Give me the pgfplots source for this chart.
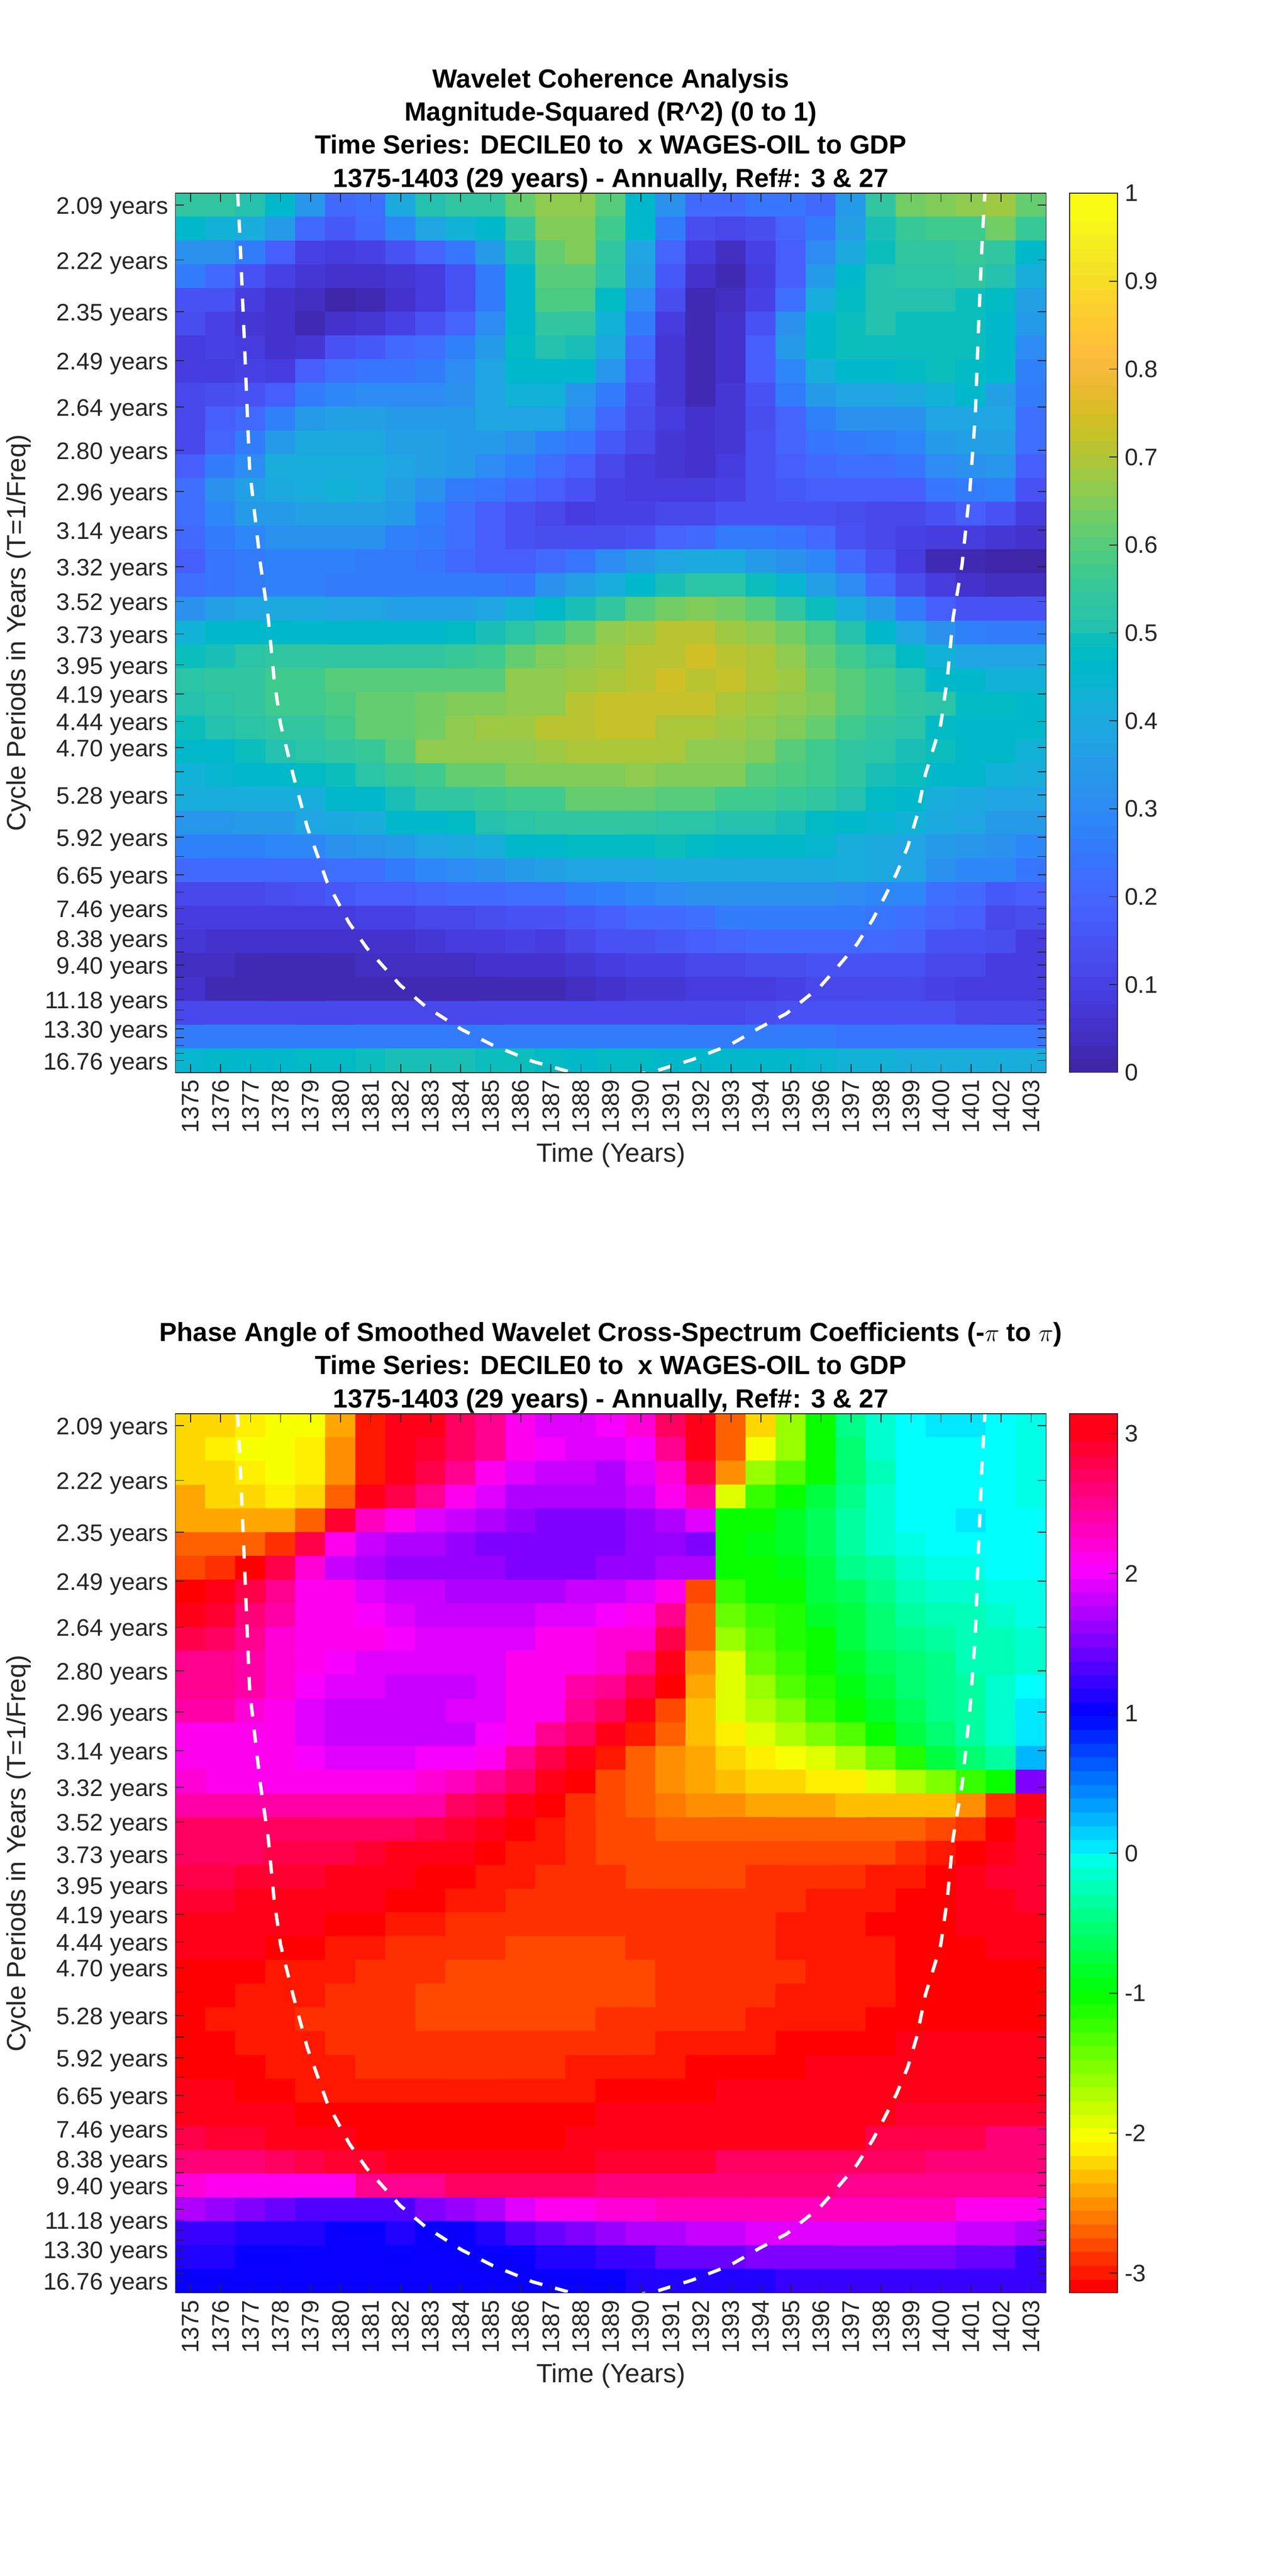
\documentclass[border=0pt]{standalone}
\usepackage{fontspec}
\setmainfont{Liberation Sans}
\usepackage{pgfplots}
\usepackage{pgfplotstable}
\pgfplotsset{compat=1.18}
\definecolor{axisgray}{rgb}{0.15,0.15,0.15}
\pgfplotstableread[row sep=crcr,header=false]{
0\\0\\1\\1\\2\\2\\3\\3\\4\\4\\5\\5\\6\\6\\7\\7\\8\\8\\9\\9\\10\\10\\11\\11\\12\\12\\13\\13\\14\\14\\15\\15\\
16\\16\\17\\17\\18\\18\\19\\19\\20\\20\\21\\21\\22\\22\\23\\23\\24\\24\\25\\25\\26\\26\\27\\27\\28\\28\\29\\29\\30\\30\\31\\31\\
32\\32\\33\\33\\34\\34\\35\\35\\36\\36\\37\\37\\38\\38\\39\\39\\40\\40\\41\\41\\42\\42\\43\\43\\44\\44\\45\\45\\46\\46\\47\\47\\
48\\48\\49\\49\\50\\50\\51\\51\\52\\52\\53\\53\\54\\54\\55\\55\\56\\56\\57\\57\\58\\58\\59\\59\\60\\60\\61\\61\\62\\62\\63\\63\\
}\cbarbins
\pgfplotsset{
  colormap={parula64}{
    rgb=(.2422,.1504,.6603) rgb=(.2504,.1650,.7076) rgb=(.2578,.1818,.7511) rgb=(.2647,.1978,.7952)
    rgb=(.2706,.2147,.8364) rgb=(.2751,.2342,.8710) rgb=(.2783,.2559,.8991) rgb=(.2803,.2782,.9221)
    rgb=(.2813,.3006,.9414) rgb=(.2810,.3228,.9579) rgb=(.2795,.3447,.9717) rgb=(.2760,.3667,.9829)
    rgb=(.2699,.3892,.9906) rgb=(.2602,.4123,.9952) rgb=(.2440,.4358,.9988) rgb=(.2206,.4603,.9973)
    rgb=(.1963,.4847,.9892) rgb=(.1834,.5074,.9798) rgb=(.1786,.5289,.9682) rgb=(.1764,.5499,.9520)
    rgb=(.1687,.5703,.9359) rgb=(.1540,.5902,.9218) rgb=(.1460,.6091,.9079) rgb=(.1380,.6276,.8973)
    rgb=(.1248,.6459,.8883) rgb=(.1113,.6635,.8763) rgb=(.0952,.6798,.8598) rgb=(.0689,.6948,.8394)
    rgb=(.0297,.7082,.8163) rgb=(.0036,.7203,.7917) rgb=(.0067,.7312,.7660) rgb=(.0433,.7411,.7394)
    rgb=(.0964,.7500,.7120) rgb=(.1408,.7584,.6842) rgb=(.1717,.7670,.6554) rgb=(.1938,.7758,.6251)
    rgb=(.2161,.7843,.5923) rgb=(.2470,.7918,.5567) rgb=(.2906,.7973,.5188) rgb=(.3406,.8008,.4789)
    rgb=(.3909,.8029,.4354) rgb=(.4456,.8024,.3909) rgb=(.5044,.7993,.3480) rgb=(.5616,.7942,.3045)
    rgb=(.6174,.7876,.2612) rgb=(.6720,.7793,.2227) rgb=(.7242,.7698,.1910) rgb=(.7738,.7598,.1646)
    rgb=(.8203,.7498,.1535) rgb=(.8634,.7406,.1596) rgb=(.9035,.7330,.1774) rgb=(.9393,.7288,.2100)
    rgb=(.9728,.7298,.2394) rgb=(.9956,.7434,.2371) rgb=(.9970,.7659,.2199) rgb=(.9952,.7861,.1964)
    rgb=(.9892,.8137,.1886) rgb=(.9786,.8386,.1724) rgb=(.9676,.8639,.1497) rgb=(.9610,.8890,.1537)
    rgb=(.9597,.9135,.1423) rgb=(.9628,.9373,.1265) rgb=(.9691,.9606,.1064) rgb=(.9769,.9839,.0805)
    rgb=(.9769,.9839,.0805)
  },
  colormap={hsv64}{
    rgb=(1,0,0) rgb=(1,.09375,0) rgb=(1,.1875,0) rgb=(1,.28125,0) rgb=(1,.375,0) rgb=(1,.46875,0)
    rgb=(1,.5625,0) rgb=(1,.65625,0) rgb=(1,.75,0) rgb=(1,.84375,0) rgb=(1,.9375,0)
    rgb=(.96875,1,0) rgb=(.875,1,0) rgb=(.78125,1,0) rgb=(.6875,1,0) rgb=(.59375,1,0) rgb=(.5,1,0)
    rgb=(.40625,1,0) rgb=(.3125,1,0) rgb=(.21875,1,0) rgb=(.125,1,0) rgb=(.03125,1,0)
    rgb=(0,1,.0625) rgb=(0,1,.15625) rgb=(0,1,.25) rgb=(0,1,.34375) rgb=(0,1,.4375) rgb=(0,1,.53125)
    rgb=(0,1,.625) rgb=(0,1,.71875) rgb=(0,1,.8125) rgb=(0,1,.90625) rgb=(0,1,1)
    rgb=(0,.90625,1) rgb=(0,.8125,1) rgb=(0,.71875,1) rgb=(0,.625,1) rgb=(0,.53125,1) rgb=(0,.4375,1)
    rgb=(0,.34375,1) rgb=(0,.25,1) rgb=(0,.15625,1) rgb=(0,.0625,1)
    rgb=(.03125,0,1) rgb=(.125,0,1) rgb=(.21875,0,1) rgb=(.3125,0,1) rgb=(.40625,0,1) rgb=(.5,0,1)
    rgb=(.59375,0,1) rgb=(.6875,0,1) rgb=(.78125,0,1) rgb=(.875,0,1) rgb=(.96875,0,1)
    rgb=(1,0,.9375) rgb=(1,0,.84375) rgb=(1,0,.75) rgb=(1,0,.65625) rgb=(1,0,.5625) rgb=(1,0,.46875)
    rgb=(1,0,.375) rgb=(1,0,.28125) rgb=(1,0,.1875) rgb=(1,0,.09375) rgb=(1,0,.09375)
  },
  heat/.style={
    scale only axis, width=422.6pt, height=426.8pt, anchor=south west,
    xmin=1374.5, xmax=1403.5, ymin=0.5, ymax=37.5, y dir=reverse,
    axis on top, tick align=inside, major tick length=4.2pt,
    colormap access=piecewise constant,
    axis line style={color=axisgray, line width=0.4pt},
    tick style={color=axisgray, line width=0.4pt},
    xtick={1375,1376,...,1403},
    x tick label style={rotate=90, anchor=east, /pgf/number format/1000 sep={}, /pgf/number format/assume math mode=true},
    xticklabel pos=bottom,
    ytick={1.00,3.31,5.49,7.55,9.49,11.32,13.05,14.68,16.22,17.68,19.05,20.35,21.57,22.73,23.82,24.84,25.82,26.73,27.60,28.41,29.18,29.91,30.60,31.25,31.86,32.43,32.98,33.49,33.98,34.44,34.87,35.28,35.66,36.03,36.37,36.69,37.00},
    yticklabels={2.09 years,2.22 years,2.35 years,2.49 years,2.64 years,2.80 years,2.96 years,3.14 years,3.32 years,3.52 years,3.73 years,3.95 years,4.19 years,4.44 years,4.70 years,{},5.28 years,{},5.92 years,{},6.65 years,{},7.46 years,{},8.38 years,{},9.40 years,{},{},11.18 years,{},{},13.30 years,{},{},{},16.76 years},
    tick label style={font=\fontsize{11.6}{13}\selectfont, text=axisgray},
    y tick label style={yshift=-1.5pt},
    xlabel={Time (Years)}, ylabel={Cycle Periods in Years (T=1/Freq)},
    label style={font=\fontsize{12.8}{15}\selectfont, text=axisgray},
    xlabel style={at={(axis description cs:0.5,-0.0942)}, anchor=center},
    ylabel style={at={(axis description cs:-0.1803,0.5)}, anchor=center},
    title style={at={(axis description cs:0.5,1)}, anchor=south, align=center, inner sep=0pt, yshift=-5.9pt,
      font=\bfseries\fontsize{12.75}{16.1}\selectfont, text=black},
  },
  cbar/.style={
    scale only axis, width=23.2pt, height=426.8pt, anchor=south west,
    xmin=0, xmax=1, ymin=-0.5, ymax=63.5, xtick=\empty,
    axis on top, colormap access=piecewise constant,
    point meta min=-0.5, point meta max=63.5,
    ytick pos=right, yticklabel pos=right, tick align=inside, major tick length=4pt,
    axis line style={color=axisgray, line width=0.4pt},
    tick style={color=axisgray, line width=0.4pt},
    tick label style={font=\fontsize{11.6}{13}\selectfont, text=axisgray},
  },
  coi/.style={white, line width=1.6pt, dash pattern=on 6.4pt off 6.4pt, sharp plot, mesh/check=false},
  cells/.style={matrix plot*, mesh/cols=29, point meta=explicit},
}
\begin{document}
\begin{tikzpicture}
\path[use as bounding box] (0,0) rectangle (625pt,1250.4pt);
\begin{axis}[heat, at={(85.2pt,729.8pt)},
  colormap name=parula64, point meta min=0, point meta max=1,
  title={Wavelet Coherence Analysis\\Magnitude-Squared (R\textasciicircum 2) (0 to 1)\\Time Series: DECILE0 to\ \ x WAGES-OIL to GDP\\1375-1403 (29 years) - Annually, Ref\#: 3 \& 27}]
\addplot[cells] table[row sep=crcr, header=false, meta index=0, x expr={1375+\coordindex-29*floor((\coordindex+0.5)/29)}, y expr={1+floor((\coordindex+0.5)/29)}] {
0.54\\0.54\\0.52\\0.46\\0.33\\0.20\\0.23\\0.39\\0.52\\0.54\\0.54\\0.62\\0.67\\0.67\\0.60\\0.46\\0.32\\0.21\\0.21\\0.24\\0.24\\0.20\\0.34\\0.54\\0.64\\0.66\\0.67\\0.69\\0.63\\
0.45\\0.43\\0.40\\0.34\\0.21\\0.16\\0.20\\0.29\\0.38\\0.43\\0.46\\0.55\\0.66\\0.66\\0.58\\0.45\\0.26\\0.13\\0.12\\0.13\\0.19\\0.26\\0.36\\0.50\\0.56\\0.58\\0.57\\0.64\\0.56\\
0.32\\0.31\\0.25\\0.17\\0.10\\0.08\\0.10\\0.15\\0.19\\0.24\\0.34\\0.50\\0.63\\0.65\\0.55\\0.38\\0.19\\0.09\\0.04\\0.10\\0.17\\0.30\\0.39\\0.48\\0.54\\0.54\\0.56\\0.55\\0.46\\
0.26\\0.20\\0.15\\0.10\\0.07\\0.05\\0.05\\0.07\\0.09\\0.15\\0.26\\0.46\\0.60\\0.61\\0.53\\0.36\\0.16\\0.06\\0.02\\0.08\\0.17\\0.34\\0.45\\0.52\\0.53\\0.53\\0.54\\0.51\\0.41\\
0.15\\0.15\\0.09\\0.05\\0.04\\0.01\\0.03\\0.06\\0.09\\0.15\\0.26\\0.46\\0.59\\0.59\\0.47\\0.30\\0.13\\0.03\\0.04\\0.10\\0.23\\0.41\\0.47\\0.51\\0.51\\0.51\\0.49\\0.47\\0.36\\
0.13\\0.10\\0.07\\0.05\\0.03\\0.05\\0.07\\0.10\\0.14\\0.19\\0.30\\0.45\\0.54\\0.54\\0.43\\0.25\\0.09\\0.03\\0.05\\0.15\\0.32\\0.45\\0.48\\0.51\\0.49\\0.49\\0.49\\0.46\\0.34\\
0.09\\0.10\\0.08\\0.06\\0.07\\0.14\\0.16\\0.20\\0.22\\0.27\\0.34\\0.47\\0.52\\0.50\\0.39\\0.20\\0.07\\0.03\\0.05\\0.17\\0.34\\0.45\\0.49\\0.49\\0.49\\0.49\\0.49\\0.46\\0.30\\
0.09\\0.09\\0.10\\0.09\\0.17\\0.22\\0.24\\0.24\\0.26\\0.30\\0.38\\0.46\\0.46\\0.46\\0.33\\0.17\\0.07\\0.03\\0.06\\0.17\\0.29\\0.41\\0.45\\0.46\\0.47\\0.48\\0.47\\0.46\\0.27\\
0.11\\0.13\\0.14\\0.17\\0.25\\0.29\\0.30\\0.30\\0.30\\0.31\\0.38\\0.42\\0.42\\0.33\\0.25\\0.14\\0.07\\0.03\\0.07\\0.15\\0.25\\0.35\\0.38\\0.38\\0.39\\0.42\\0.45\\0.36\\0.25\\
0.11\\0.17\\0.21\\0.27\\0.35\\0.36\\0.36\\0.34\\0.34\\0.35\\0.37\\0.37\\0.37\\0.30\\0.20\\0.13\\0.08\\0.05\\0.07\\0.13\\0.19\\0.27\\0.31\\0.31\\0.32\\0.37\\0.38\\0.37\\0.22\\
0.12\\0.19\\0.26\\0.34\\0.39\\0.39\\0.39\\0.36\\0.36\\0.35\\0.34\\0.32\\0.27\\0.24\\0.16\\0.11\\0.07\\0.05\\0.07\\0.14\\0.19\\0.24\\0.26\\0.27\\0.28\\0.34\\0.36\\0.36\\0.22\\
0.17\\0.26\\0.30\\0.40\\0.41\\0.41\\0.40\\0.37\\0.36\\0.34\\0.30\\0.27\\0.22\\0.17\\0.12\\0.09\\0.07\\0.06\\0.08\\0.14\\0.17\\0.20\\0.22\\0.22\\0.24\\0.30\\0.32\\0.33\\0.18\\
0.23\\0.31\\0.36\\0.39\\0.41\\0.42\\0.41\\0.36\\0.31\\0.26\\0.24\\0.21\\0.17\\0.14\\0.10\\0.09\\0.08\\0.08\\0.10\\0.14\\0.16\\0.17\\0.17\\0.17\\0.18\\0.24\\0.26\\0.27\\0.14\\
0.22\\0.29\\0.34\\0.35\\0.36\\0.36\\0.36\\0.34\\0.27\\0.22\\0.17\\0.14\\0.11\\0.09\\0.10\\0.10\\0.11\\0.12\\0.14\\0.14\\0.14\\0.14\\0.13\\0.11\\0.11\\0.14\\0.17\\0.14\\0.08\\
0.20\\0.25\\0.29\\0.31\\0.31\\0.31\\0.31\\0.27\\0.26\\0.22\\0.17\\0.14\\0.13\\0.13\\0.13\\0.14\\0.19\\0.21\\0.25\\0.25\\0.24\\0.21\\0.15\\0.12\\0.10\\0.09\\0.08\\0.07\\0.05\\
0.17\\0.24\\0.25\\0.27\\0.27\\0.27\\0.26\\0.25\\0.24\\0.21\\0.18\\0.17\\0.20\\0.24\\0.30\\0.35\\0.38\\0.39\\0.39\\0.35\\0.32\\0.29\\0.21\\0.14\\0.09\\0.03\\0.02\\0.01\\0.01\\
0.22\\0.24\\0.26\\0.27\\0.27\\0.26\\0.26\\0.25\\0.25\\0.25\\0.25\\0.24\\0.31\\0.36\\0.41\\0.46\\0.50\\0.53\\0.53\\0.49\\0.44\\0.36\\0.30\\0.21\\0.13\\0.09\\0.05\\0.04\\0.04\\
0.32\\0.36\\0.37\\0.39\\0.39\\0.37\\0.37\\0.36\\0.36\\0.36\\0.38\\0.42\\0.46\\0.50\\0.55\\0.61\\0.64\\0.66\\0.64\\0.60\\0.55\\0.48\\0.41\\0.34\\0.25\\0.18\\0.14\\0.14\\0.14\\
0.43\\0.46\\0.46\\0.46\\0.46\\0.46\\0.46\\0.46\\0.46\\0.47\\0.50\\0.53\\0.58\\0.62\\0.67\\0.69\\0.715\\0.715\\0.69\\0.675\\0.64\\0.59\\0.52\\0.45\\0.37\\0.31\\0.27\\0.26\\0.26\\
0.48\\0.50\\0.53\\0.54\\0.54\\0.54\\0.54\\0.54\\0.55\\0.56\\0.58\\0.62\\0.65\\0.675\\0.69\\0.72\\0.72\\0.74\\0.72\\0.705\\0.67\\0.63\\0.58\\0.53\\0.47\\0.42\\0.37\\0.37\\0.37\\
0.53\\0.55\\0.55\\0.58\\0.58\\0.60\\0.60\\0.61\\0.61\\0.60\\0.60\\0.67\\0.67\\0.69\\0.705\\0.72\\0.74\\0.72\\0.725\\0.705\\0.69\\0.64\\0.60\\0.58\\0.53\\0.46\\0.45\\0.42\\0.43\\
0.52\\0.53\\0.55\\0.57\\0.58\\0.59\\0.62\\0.62\\0.64\\0.65\\0.66\\0.67\\0.675\\0.715\\0.725\\0.725\\0.725\\0.725\\0.705\\0.69\\0.67\\0.65\\0.61\\0.58\\0.55\\0.53\\0.47\\0.47\\0.46\\
0.49\\0.51\\0.53\\0.54\\0.55\\0.57\\0.62\\0.63\\0.64\\0.67\\0.69\\0.69\\0.715\\0.72\\0.725\\0.725\\0.705\\0.705\\0.69\\0.675\\0.66\\0.62\\0.58\\0.55\\0.53\\0.47\\0.46\\0.46\\0.45\\
0.46\\0.46\\0.49\\0.51\\0.53\\0.55\\0.56\\0.61\\0.67\\0.67\\0.675\\0.675\\0.69\\0.70\\0.70\\0.70\\0.70\\0.675\\0.67\\0.66\\0.61\\0.58\\0.55\\0.53\\0.50\\0.49\\0.46\\0.46\\0.43\\
0.43\\0.44\\0.46\\0.46\\0.47\\0.49\\0.53\\0.56\\0.58\\0.62\\0.63\\0.66\\0.66\\0.66\\0.66\\0.67\\0.65\\0.65\\0.65\\0.61\\0.59\\0.57\\0.54\\0.50\\0.48\\0.46\\0.46\\0.42\\0.40\\
0.40\\0.40\\0.40\\0.40\\0.41\\0.45\\0.46\\0.50\\0.54\\0.55\\0.56\\0.58\\0.58\\0.62\\0.62\\0.62\\0.60\\0.60\\0.58\\0.57\\0.56\\0.54\\0.52\\0.47\\0.46\\0.41\\0.39\\0.38\\0.38\\
0.33\\0.33\\0.34\\0.35\\0.37\\0.39\\0.41\\0.45\\0.46\\0.47\\0.52\\0.53\\0.54\\0.55\\0.55\\0.55\\0.53\\0.53\\0.52\\0.52\\0.50\\0.47\\0.46\\0.44\\0.42\\0.39\\0.37\\0.35\\0.34\\
0.27\\0.27\\0.27\\0.28\\0.29\\0.31\\0.33\\0.34\\0.37\\0.39\\0.41\\0.46\\0.46\\0.47\\0.47\\0.47\\0.48\\0.47\\0.46\\0.46\\0.46\\0.44\\0.41\\0.39\\0.38\\0.34\\0.33\\0.31\\0.29\\
0.20\\0.20\\0.20\\0.21\\0.21\\0.22\\0.23\\0.26\\0.28\\0.30\\0.31\\0.34\\0.36\\0.37\\0.38\\0.38\\0.39\\0.39\\0.39\\0.39\\0.39\\0.39\\0.40\\0.39\\0.38\\0.32\\0.29\\0.28\\0.24\\
0.12\\0.12\\0.12\\0.13\\0.15\\0.16\\0.17\\0.18\\0.19\\0.20\\0.21\\0.22\\0.23\\0.25\\0.27\\0.29\\0.30\\0.31\\0.31\\0.32\\0.32\\0.31\\0.30\\0.29\\0.28\\0.22\\0.20\\0.16\\0.17\\
0.08\\0.08\\0.08\\0.08\\0.09\\0.09\\0.10\\0.10\\0.11\\0.12\\0.13\\0.14\\0.15\\0.16\\0.18\\0.20\\0.21\\0.23\\0.25\\0.25\\0.25\\0.25\\0.25\\0.24\\0.23\\0.19\\0.17\\0.12\\0.13\\
0.07\\0.05\\0.05\\0.05\\0.05\\0.05\\0.05\\0.05\\0.07\\0.08\\0.08\\0.10\\0.09\\0.11\\0.14\\0.15\\0.16\\0.18\\0.19\\0.20\\0.20\\0.20\\0.21\\0.20\\0.19\\0.15\\0.14\\0.13\\0.09\\
0.04\\0.04\\0.03\\0.03\\0.03\\0.02\\0.04\\0.04\\0.04\\0.04\\0.05\\0.06\\0.06\\0.07\\0.08\\0.10\\0.10\\0.11\\0.11\\0.13\\0.13\\0.14\\0.14\\0.14\\0.14\\0.11\\0.11\\0.08\\0.08\\
0.05\\0.03\\0.03\\0.03\\0.03\\0.03\\0.02\\0.02\\0.02\\0.02\\0.03\\0.03\\0.03\\0.04\\0.06\\0.07\\0.07\\0.08\\0.09\\0.09\\0.10\\0.11\\0.11\\0.11\\0.11\\0.10\\0.09\\0.09\\0.08\\
0.11\\0.11\\0.11\\0.11\\0.11\\0.11\\0.11\\0.11\\0.11\\0.11\\0.11\\0.11\\0.11\\0.11\\0.11\\0.11\\0.11\\0.12\\0.12\\0.13\\0.14\\0.14\\0.14\\0.14\\0.14\\0.14\\0.12\\0.12\\0.11\\
0.26\\0.26\\0.26\\0.26\\0.26\\0.26\\0.26\\0.26\\0.26\\0.26\\0.26\\0.26\\0.26\\0.26\\0.26\\0.26\\0.25\\0.25\\0.25\\0.25\\0.25\\0.25\\0.24\\0.24\\0.24\\0.24\\0.24\\0.24\\0.24\\
0.44\\0.45\\0.45\\0.46\\0.47\\0.47\\0.49\\0.50\\0.50\\0.50\\0.49\\0.48\\0.47\\0.46\\0.47\\0.47\\0.46\\0.46\\0.46\\0.45\\0.45\\0.44\\0.43\\0.42\\0.41\\0.41\\0.41\\0.41\\0.41\\
};
\addplot[coi] coordinates {(1376.57,0.5) (1376.64,2.2) (1376.79,6.62) (1376.97,12.15) (1377.33,16.12) (1377.59,18.37) (1377.78,20.91) (1378.0,22.85) (1378.44,25.08) (1378.89,27.18) (1379.55,29.49) (1380.28,31.2) (1380.87,32.26) (1381.98,33.82) (1382.83,34.72) (1384.03,35.69) (1385.07,36.35) (1386.39,37.03) (1387.57,37.45) (1388.9,37.8) (1390.46,37.45) (1391.71,36.96) (1392.95,36.35) (1393.98,35.6) (1394.85,35.02) (1395.97,33.89) (1396.54,33.08) (1397.2,32.1) (1397.72,31.07) (1398.16,30.02) (1398.52,29.12) (1398.89,28.0) (1399.19,26.73) (1399.48,24.95) (1399.99,22.85) (1400.21,20.91) (1400.4,18.37) (1400.7,16.12) (1400.96,12.98) (1401.14,9.86) (1401.25,6.07) (1401.36,2.74) (1401.46,0.5)};
\end{axis}
\begin{axis}[cbar, at={(519.2pt,729.8pt)}, colormap name=parula64,
  ytick={-0.5,5.9,12.3,18.7,25.1,31.5,37.9,44.3,50.7,57.1,63.5},
  yticklabels={0,0.1,0.2,0.3,0.4,0.5,0.6,0.7,0.8,0.9,1}]
\addplot[matrix plot*, mesh/cols=2, point meta=y] table[x expr={\coordindex-2*floor((\coordindex+0.5)/2)}, y index=0] {\cbarbins};
\end{axis}
\begin{axis}[heat, at={(85.2pt,137.4pt)},
  colormap name=hsv64, point meta min=-3.14159, point meta max=3.14159,
  title={Phase Angle of Smoothed Wavelet Cross-Spectrum Coefficients (-$\pi$ to $\pi$)\\Time Series: DECILE0 to\ \ x WAGES-OIL to GDP\\1375-1403 (29 years) - Annually, Ref\#: 3 \& 27}]
\addplot[cells] table[row sep=crcr, header=false, meta index=0, x expr={1375+\coordindex-29*floor((\coordindex+0.5)/29)}, y expr={1+floor((\coordindex+0.5)/29)}] {
-2.27\\-2.27\\-2.16\\-2.05\\-2.05\\-2.46\\-3.0\\3.0\\3.0\\2.75\\2.55\\2.15\\1.97\\1.97\\2.05\\2.2\\2.75\\3.0\\-2.66\\-2.2\\-1.68\\-1.1\\-0.5\\-0.15\\0\\0.12\\0.12\\0.01\\-0.12\\
-2.27\\-2.16\\-2.05\\-2.05\\-2.17\\-2.56\\-3.0\\3.1\\2.92\\2.68\\2.47\\2.1\\2.0\\1.97\\1.9\\2.05\\2.47\\3.0\\-2.66\\-2.05\\-1.6\\-1.1\\-0.55\\-0.23\\0\\0\\0\\0\\-0.12\\
-2.27\\-2.27\\-2.16\\-2.03\\-2.16\\-2.56\\-3.0\\3.0\\2.8\\2.55\\2.15\\1.97\\1.83\\1.83\\1.78\\1.9\\2.2\\2.8\\-2.56\\-1.68\\-1.33\\-1.08\\-0.55\\-0.28\\0\\0\\0\\0\\-0.1\\
-2.37\\-2.27\\-2.27\\-2.16\\-2.27\\-2.75\\3.1\\2.8\\2.47\\2.1\\1.97\\1.78\\1.78\\1.78\\1.74\\1.87\\2.1\\2.4\\-1.95\\-1.26\\-1.08\\-0.8\\-0.45\\-0.2\\0\\0\\0\\0\\-0.1\\
-2.44\\-2.44\\-2.37\\-2.44\\-2.66\\2.9\\2.3\\2.1\\1.93\\1.8\\1.7\\1.6\\1.55\\1.55\\1.5\\1.6\\1.78\\1.93\\-1.1\\-1.1\\-0.85\\-0.68\\-0.38\\-0.15\\0\\0\\0.12\\0\\0\\
-2.66\\-2.66\\-2.66\\-2.9\\2.85\\2.1\\1.83\\1.7\\1.7\\1.6\\1.58\\1.55\\1.55\\1.55\\1.5\\1.6\\1.6\\1.57\\-1.08\\-0.95\\-0.85\\-0.68\\-0.4\\-0.2\\-0.08\\0\\0\\0\\0\\
-2.8\\-2.9\\-3.1\\2.82\\2.2\\1.87\\1.78\\1.68\\1.68\\1.68\\1.6\\1.57\\1.57\\1.57\\1.66\\1.68\\1.78\\1.74\\-1.08\\-1.08\\-0.95\\-0.75\\-0.45\\-0.35\\-0.2\\-0.1\\-0.05\\0\\0\\
-3.1\\3.0\\2.8\\2.55\\2.09\\2.09\\1.97\\1.87\\1.87\\1.74\\1.74\\1.74\\1.74\\1.83\\1.87\\1.97\\2.09\\-2.8\\-1.26\\-1.08\\-1.08\\-0.8\\-0.68\\-0.45\\-0.32\\-0.22\\-0.2\\-0.12\\-0.12\\
3.0\\2.9\\2.62\\2.45\\2.1\\2.09\\2.0\\1.97\\1.8\\1.8\\1.8\\1.8\\1.9\\1.9\\2.05\\2.09\\2.47\\-2.68\\-1.47\\-1.26\\-1.12\\-0.9\\-0.75\\-0.55\\-0.38\\-0.3\\-0.28\\-0.23\\-0.12\\
2.85\\2.68\\2.55\\2.25\\2.09\\2.09\\2.09\\2.0\\1.97\\1.95\\1.95\\1.95\\2.09\\2.09\\2.18\\2.25\\2.82\\-2.68\\-1.68\\-1.33\\-1.15\\-1.08\\-0.8\\-0.6\\-0.47\\-0.35\\-0.3\\-0.27\\-0.15\\
2.55\\2.47\\2.38\\2.2\\2.09\\2.04\\1.97\\1.97\\1.97\\1.97\\1.98\\2.09\\2.09\\2.12\\2.25\\2.47\\3.0\\-2.56\\-1.9\\-1.47\\-1.26\\-1.08\\-0.85\\-0.68\\-0.55\\-0.45\\-0.33\\-0.28\\-0.15\\
2.47\\2.47\\2.4\\2.2\\2.06\\1.97\\1.97\\1.87\\1.87\\1.87\\1.97\\2.09\\2.12\\2.4\\2.47\\2.82\\-3.1\\-2.46\\-1.97\\-1.6\\-1.33\\-1.15\\-0.95\\-0.75\\-0.6\\-0.45\\-0.35\\-0.15\\0\\
2.38\\2.38\\2.25\\2.09\\1.97\\1.87\\1.87\\1.87\\1.87\\1.9\\1.97\\2.12\\2.15\\2.55\\2.68\\3.0\\-2.8\\-2.35\\-1.97\\-1.77\\-1.5\\-1.26\\-1.02\\-0.85\\-0.68\\-0.5\\-0.38\\-0.2\\0.08\\
2.1\\2.1\\2.09\\2.09\\1.97\\1.83\\1.83\\1.83\\1.83\\1.85\\2.0\\2.12\\2.55\\2.75\\3.0\\-3.0\\-2.68\\-2.35\\-2.12\\-1.9\\-1.77\\-1.55\\-1.33\\-1.08\\-0.75\\-0.55\\-0.38\\-0.2\\0.12\\
2.09\\2.09\\2.09\\2.09\\2.0\\1.98\\1.9\\1.9\\2.0\\2.04\\2.12\\2.47\\2.82\\3.0\\-3.0\\-2.75\\-2.53\\-2.4\\-2.27\\-2.09\\-2.0\\-1.9\\-1.7\\-1.47\\-1.15\\-0.8\\-0.6\\-0.35\\0.25\\
2.2\\2.09\\2.09\\2.09\\2.09\\2.09\\2.09\\2.09\\2.2\\2.33\\2.47\\2.75\\3.0\\-3.1\\-2.8\\-2.75\\-2.53\\-2.44\\-2.35\\-2.27\\-2.27\\-2.16\\-2.09\\-1.97\\-1.75\\-1.55\\-1.3\\-1.05\\1.5\\
2.38\\2.38\\2.38\\2.38\\2.38\\2.38\\2.38\\2.38\\2.42\\2.75\\2.82\\3.0\\-3.1\\-2.9\\-2.8\\-2.75\\-2.62\\-2.56\\-2.56\\-2.44\\-2.44\\-2.44\\-2.35\\-2.35\\-2.35\\-2.35\\-2.56\\-2.9\\2.95\\
2.68\\2.68\\2.68\\2.68\\2.68\\2.68\\2.72\\2.72\\2.78\\2.88\\3.0\\-3.1\\-3.0\\-2.9\\-2.8\\-2.8\\-2.72\\-2.72\\-2.66\\-2.66\\-2.66\\-2.66\\-2.66\\-2.66\\-2.74\\-2.8\\-2.9\\-3.1\\2.92\\
2.72\\2.72\\2.72\\2.82\\2.82\\2.82\\2.88\\2.95\\2.95\\3.1\\-3.1\\-3.0\\-3.0\\-2.9\\-2.8\\-2.8\\-2.8\\-2.8\\-2.8\\-2.8\\-2.8\\-2.8\\-2.8\\-2.8\\-2.9\\-3.0\\-3.1\\3.0\\2.92\\
2.78\\2.78\\2.88\\2.88\\2.88\\3.0\\3.0\\3.1\\-3.1\\-3.1\\-3.0\\-3.0\\-2.9\\-2.9\\-2.9\\-2.8\\-2.8\\-2.8\\-2.8\\-2.9\\-2.9\\-2.9\\-2.9\\-3.0\\-3.0\\-3.1\\2.95\\2.92\\2.92\\
2.88\\2.88\\2.95\\2.95\\2.95\\3.1\\3.1\\-3.1\\-3.1\\-3.0\\-3.0\\-2.9\\-2.9\\-2.9\\-2.9\\-2.9\\-2.9\\-2.9\\-2.9\\-2.9\\-2.9\\-3.0\\-3.0\\-3.0\\-3.1\\-3.1\\2.95\\2.95\\2.92\\
2.95\\2.95\\3.0\\3.0\\3.0\\-3.1\\-3.1\\-3.0\\-3.0\\-2.9\\-2.9\\-2.9\\-2.9\\-2.9\\-2.9\\-2.9\\-2.9\\-2.9\\-2.9\\-2.9\\-3.0\\-3.0\\-3.0\\-3.1\\-3.1\\-3.1\\3.0\\3.0\\2.95\\
3.0\\3.0\\3.0\\-3.1\\-3.1\\-3.0\\-3.0\\-2.9\\-2.9\\-2.9\\-2.9\\-2.8\\-2.8\\-2.8\\-2.8\\-2.9\\-2.9\\-2.9\\-2.9\\-2.9\\-3.0\\-3.0\\-3.0\\-3.0\\-3.1\\-3.1\\-3.1\\3.1\\3.1\\
-3.1\\-3.1\\-3.1\\-3.0\\-3.0\\-3.0\\-2.9\\-2.9\\-2.9\\-2.8\\-2.8\\-2.8\\-2.8\\-2.8\\-2.8\\-2.8\\-2.9\\-2.9\\-2.9\\-2.9\\-2.9\\-3.0\\-3.0\\-3.0\\-3.1\\-3.1\\-3.1\\-3.1\\-3.1\\
-3.1\\-3.1\\-3.0\\-3.0\\-3.0\\-2.9\\-2.9\\-2.9\\-2.8\\-2.8\\-2.8\\-2.8\\-2.8\\-2.8\\-2.8\\-2.8\\-2.9\\-2.9\\-2.9\\-2.9\\-3.0\\-3.0\\-3.0\\-3.0\\-3.1\\-3.1\\-3.1\\-3.1\\-3.1\\
-3.1\\-3.0\\-3.0\\-3.0\\-2.9\\-2.9\\-2.9\\-2.9\\-2.8\\-2.8\\-2.8\\-2.8\\-2.8\\-2.8\\-2.9\\-2.9\\-2.9\\-2.9\\-2.9\\-3.0\\-3.0\\-3.0\\-3.0\\-3.1\\-3.1\\-3.1\\-3.1\\-3.1\\-3.1\\
-3.1\\-3.1\\-3.0\\-3.0\\-3.0\\-2.9\\-2.9\\-2.9\\-2.9\\-2.9\\-2.9\\-2.9\\-2.9\\-2.9\\-2.9\\-2.9\\-3.0\\-3.0\\-3.0\\-3.0\\-3.1\\-3.1\\-3.1\\-3.1\\3.1\\3.1\\3.1\\3.1\\3.1\\
-3.1\\-3.1\\-3.1\\-3.0\\-3.0\\-3.0\\-2.9\\-2.9\\-2.9\\-2.9\\-2.9\\-2.9\\-2.9\\-3.0\\-3.0\\-3.0\\-3.0\\-3.1\\-3.1\\-3.1\\-3.1\\3.1\\3.1\\3.1\\3.1\\3.0\\3.0\\3.0\\3.0\\
3.1\\3.1\\-3.1\\-3.1\\-3.0\\-3.0\\-3.0\\-3.0\\-3.0\\-3.0\\-3.0\\-3.0\\-3.0\\-3.0\\-3.1\\-3.1\\-3.1\\-3.1\\3.1\\3.1\\3.1\\3.0\\3.0\\3.0\\3.0\\2.95\\2.95\\2.95\\2.95\\
3.0\\3.0\\3.1\\3.1\\-3.1\\-3.1\\-3.1\\-3.1\\-3.1\\-3.1\\-3.1\\-3.1\\-3.1\\-3.1\\3.1\\3.1\\3.1\\3.1\\3.1\\3.1\\3.1\\3.0\\3.0\\3.0\\2.9\\2.9\\2.9\\2.9\\2.9\\
2.82\\2.88\\2.88\\2.95\\3.1\\3.1\\-3.1\\-3.1\\-3.1\\-3.1\\-3.1\\-3.1\\-3.1\\3.1\\3.1\\3.1\\3.1\\3.0\\3.0\\3.0\\2.95\\2.95\\2.95\\2.82\\2.82\\2.82\\2.82\\2.65\\2.65\\
2.62\\2.62\\2.62\\2.75\\2.82\\2.9\\2.9\\2.95\\2.95\\2.95\\2.95\\2.95\\2.95\\2.95\\2.9\\2.9\\2.9\\2.9\\2.75\\2.75\\2.75\\2.68\\2.68\\2.68\\2.68\\2.62\\2.62\\2.62\\2.62\\
2.25\\2.1\\2.1\\2.1\\2.1\\2.1\\2.47\\2.47\\2.47\\2.68\\2.72\\2.72\\2.72\\2.72\\2.62\\2.62\\2.62\\2.62\\2.62\\2.62\\2.62\\2.62\\2.55\\2.55\\2.55\\2.55\\2.47\\2.47\\2.47\\
1.74\\1.63\\1.54\\1.44\\1.32\\1.32\\1.32\\1.4\\1.5\\1.63\\1.74\\1.97\\2.09\\2.12\\2.2\\2.2\\2.28\\2.28\\2.28\\2.28\\2.28\\2.28\\2.28\\2.28\\2.28\\2.28\\2.17\\2.17\\2.09\\
1.3\\1.23\\1.12\\1.12\\1.12\\1.05\\1.05\\1.15\\1.1\\1.1\\1.17\\1.32\\1.44\\1.57\\1.63\\1.74\\1.74\\1.87\\1.87\\1.97\\1.97\\1.97\\1.97\\1.97\\1.97\\1.97\\1.87\\1.87\\1.74\\
1.17\\1.17\\1.05\\1.05\\1.05\\1.05\\1.05\\1.05\\1.05\\1.05\\1.08\\1.1\\1.18\\1.18\\1.3\\1.3\\1.44\\1.44\\1.44\\1.53\\1.53\\1.53\\1.53\\1.53\\1.53\\1.53\\1.44\\1.44\\1.3\\
1.05\\1.05\\1.05\\1.05\\1.05\\1.05\\1.05\\1.05\\1.05\\1.05\\1.05\\1.1\\1.08\\1.08\\1.1\\1.18\\1.18\\1.18\\1.18\\1.2\\1.25\\1.25\\1.25\\1.25\\1.25\\1.22\\1.22\\1.22\\1.22\\
};
\addplot[coi] coordinates {(1376.57,0.5) (1376.64,2.2) (1376.79,6.62) (1376.97,12.15) (1377.33,16.12) (1377.59,18.37) (1377.78,20.91) (1378.0,22.85) (1378.44,25.08) (1378.89,27.18) (1379.55,29.49) (1380.28,31.2) (1380.87,32.26) (1381.98,33.82) (1382.83,34.72) (1384.03,35.69) (1385.07,36.35) (1386.39,37.03) (1387.57,37.45) (1388.9,37.8) (1390.46,37.45) (1391.71,36.96) (1392.95,36.35) (1393.98,35.6) (1394.85,35.02) (1395.97,33.89) (1396.54,33.08) (1397.2,32.1) (1397.72,31.07) (1398.16,30.02) (1398.52,29.12) (1398.89,28.0) (1399.19,26.73) (1399.48,24.95) (1399.99,22.85) (1400.21,20.91) (1400.4,18.37) (1400.7,16.12) (1400.96,12.98) (1401.14,9.86) (1401.25,6.07) (1401.36,2.74) (1401.46,0.5)};
\end{axis}
\begin{axis}[cbar, at={(519.2pt,137.4pt)}, colormap name=hsv64,
  ytick={0.941,11.127,21.313,31.5,41.686,51.87,62.06},
  yticklabels={-3,-2,-1,0,1,2,3}]
\addplot[matrix plot*, mesh/cols=2, point meta=y] table[x expr={\coordindex-2*floor((\coordindex+0.5)/2)}, y index=0] {\cbarbins};
\end{axis}
\end{tikzpicture}
\end{document}
